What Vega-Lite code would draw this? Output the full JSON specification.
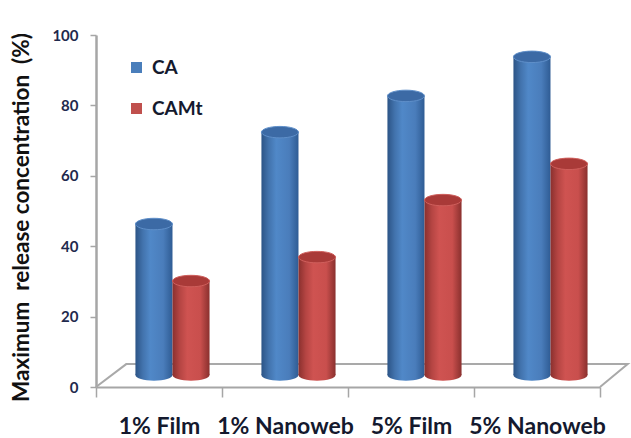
{
  "$schema": "https://vega.github.io/schema/vega-lite/v6.json",
  "width": 504,
  "height": 352,
  "autosize": {"type": "none"},
  "padding": {"left": 96, "top": 35, "right": 31, "bottom": 51},
  "background": "white",
  "config": {
    "view": {"stroke": null},
    "font": "Lato",
    "axis": {"grid": false}
  },
  "datasets": {
    "release": [
      {"form": "1% Film", "series": "CA", "pct": 46.3},
      {"form": "1% Nanoweb", "series": "CA", "pct": 72.4},
      {"form": "5% Film", "series": "CA", "pct": 82.7},
      {"form": "5% Nanoweb", "series": "CA", "pct": 93.8},
      {"form": "1% Film", "series": "CAMt", "pct": 30.1},
      {"form": "1% Nanoweb", "series": "CAMt", "pct": 36.9},
      {"form": "5% Film", "series": "CAMt", "pct": 53.1},
      {"form": "5% Nanoweb", "series": "CAMt", "pct": 63.4}
    ],
    "floor": [
      {"corner": 1, "depth": 0, "level": 0},
      {"corner": 2, "depth": 0.24, "level": 6.5},
      {"corner": 3, "depth": 4.22, "level": 6.5},
      {"corner": 4, "depth": 4, "level": 0}
    ]
  },
  "resolve": {"scale": {"x": "independent"}},
  "layer": [
    {
      "data": {"name": "floor"},
      "mark": {"type": "line", "color": "#a9a9a9", "strokeWidth": 2, "clip": false},
      "encoding": {
        "x": {"field": "depth", "type": "quantitative", "scale": {"domain": [0, 4]}, "axis": null},
        "y": {
          "field": "level",
          "type": "quantitative",
          "scale": {"domain": [0, 100]},
          "axis": {
            "title": "Maximum\u00a0\u00a0release concentration\u00a0\u00a0(%)",
            "titleFontSize": 22.5,
            "titleFontWeight": "bold",
            "titleColor": "#111111",
            "titlePadding": 18,
            "titleY": 182,
            "values": [0, 20, 40, 60, 80, 100],
            "domainColor": "#a6a6a6",
            "domainWidth": 2.5,
            "tickColor": "#a6a6a6",
            "tickWidth": 1.5,
            "tickSize": 6,
            "labelFontSize": 15,
            "labelFontWeight": "bold",
            "labelColor": "#1f2a4d",
            "labelPadding": 12
          }
        },
        "order": {"field": "corner", "type": "quantitative"}
      }
    },
    {
      "data": {"name": "release"},
      "encoding": {
        "x": {
          "field": "form",
          "type": "nominal",
          "sort": null,
          "scale": {"paddingInner": 0, "paddingOuter": 0},
          "axis": {
            "title": null,
            "labelAngle": 0,
            "tickBand": "extent",
            "domainColor": "#a6a6a6",
            "domainWidth": 2,
            "tickColor": "#a6a6a6",
            "tickWidth": 1.5,
            "tickSize": 10,
            "labelFontSize": 23,
            "labelFontWeight": "bold",
            "labelColor": "#14192e",
            "labelPadding": 18
          }
        },
        "xOffset": {
          "field": "series",
          "type": "nominal",
          "sort": null,
          "scale": {"domain": ["CA", "CAMt"], "paddingInner": 0, "paddingOuter": 0.7, "align": 0.76}
        },
        "y": {
          "field": "pct",
          "type": "quantitative",
          "axis": {
            "title": "Maximum\u00a0\u00a0release concentration\u00a0\u00a0(%)",
            "titleFontSize": 22.5,
            "titleFontWeight": "bold",
            "titleColor": "#111111",
            "titlePadding": 18,
            "titleY": 182,
            "values": [0, 20, 40, 60, 80, 100],
            "domainColor": "#a6a6a6",
            "domainWidth": 2.5,
            "tickColor": "#a6a6a6",
            "tickWidth": 1.5,
            "tickSize": 6,
            "labelFontSize": 15,
            "labelFontWeight": "bold",
            "labelColor": "#1f2a4d",
            "labelPadding": 12
          }
        }
      },
      "layer": [
        {
          "mark": {"type": "bar", "opacity": 0},
          "encoding": {
            "y2": {"datum": 3.4},
            "color": {
              "field": "series",
              "type": "nominal",
              "scale": {"domain": ["CA", "CAMt"], "range": ["#4a7ebb", "#c0504d"]},
              "legend": {
                "title": null,
                "orient": "none",
                "legendX": 31,
                "legendY": 23,
                "symbolType": "square",
                "symbolSize": 121,
                "symbolOpacity": 1,
                "labelFontSize": 19,
                "labelFontWeight": "bold",
                "labelColor": "#14192e",
                "labelOffset": 6,
                "rowPadding": 21
              }
            }
          }
        },
        {
          "transform": [{"filter": "datum.series === 'CA'"}],
          "layer": [
            {
              "mark": {
                "type": "point", "filled": true, "opacity": 1, "size": 1369, "clip": false,
                "shape": "M-1,0 A1,0.31 0 1,1 1,0 A1,0.31 0 1,1 -1,0 Z",
                "fill": {"x1": 0, "y1": 0, "x2": 1, "y2": 0, "gradient": "linear", "stops": [
                  {"offset": 0, "color": "#2c5486"}, {"offset": 0.2, "color": "#4273ad"}, {"offset": 0.4, "color": "#5088c8"},
                  {"offset": 0.75, "color": "#4a7dbb"}, {"offset": 1, "color": "#2f5c94"}]}
              },
              "encoding": {"y": {"datum": 3.4}}
            },
            {
              "mark": {
                "type": "bar",
                "fill": {"x1": 0, "y1": 0, "x2": 1, "y2": 0, "gradient": "linear", "stops": [
                  {"offset": 0, "color": "#2c5486"}, {"offset": 0.2, "color": "#4273ad"}, {"offset": 0.4, "color": "#5088c8"},
                  {"offset": 0.75, "color": "#4a7dbb"}, {"offset": 1, "color": "#2f5c94"}]}
              },
              "encoding": {"y2": {"datum": 3.4}}
            },
            {
              "mark": {
                "type": "point", "filled": true, "opacity": 1, "size": 1369,
                "shape": "M-1,0 A1,0.31 0 1,1 1,0 A1,0.31 0 1,1 -1,0 Z",
                "fill": "#3c6aa5", "stroke": "#5f8fc9", "strokeWidth": 1
              }
            }
          ]
        },
        {
          "transform": [{"filter": "datum.series === 'CAMt'"}],
          "layer": [
            {
              "mark": {
                "type": "point", "filled": true, "opacity": 1, "size": 1369, "clip": false,
                "shape": "M-1,0 A1,0.31 0 1,1 1,0 A1,0.31 0 1,1 -1,0 Z",
                "fill": {"x1": 0, "y1": 0, "x2": 1, "y2": 0, "gradient": "linear", "stops": [
                  {"offset": 0, "color": "#8a302e"}, {"offset": 0.2, "color": "#b54543"}, {"offset": 0.4, "color": "#cf5351"},
                  {"offset": 0.75, "color": "#c94f4d"}, {"offset": 1, "color": "#8a302e"}]}
              },
              "encoding": {"y": {"datum": 3.4}}
            },
            {
              "mark": {
                "type": "bar",
                "fill": {"x1": 0, "y1": 0, "x2": 1, "y2": 0, "gradient": "linear", "stops": [
                  {"offset": 0, "color": "#8a302e"}, {"offset": 0.2, "color": "#b54543"}, {"offset": 0.4, "color": "#cf5351"},
                  {"offset": 0.75, "color": "#c94f4d"}, {"offset": 1, "color": "#8a302e"}]}
              },
              "encoding": {"y2": {"datum": 3.4}}
            },
            {
              "mark": {
                "type": "point", "filled": true, "opacity": 1, "size": 1369,
                "shape": "M-1,0 A1,0.31 0 1,1 1,0 A1,0.31 0 1,1 -1,0 Z",
                "fill": "#a93a38", "stroke": "#cf5f5c", "strokeWidth": 1
              }
            }
          ]
        }
      ]
    }
  ]
}
